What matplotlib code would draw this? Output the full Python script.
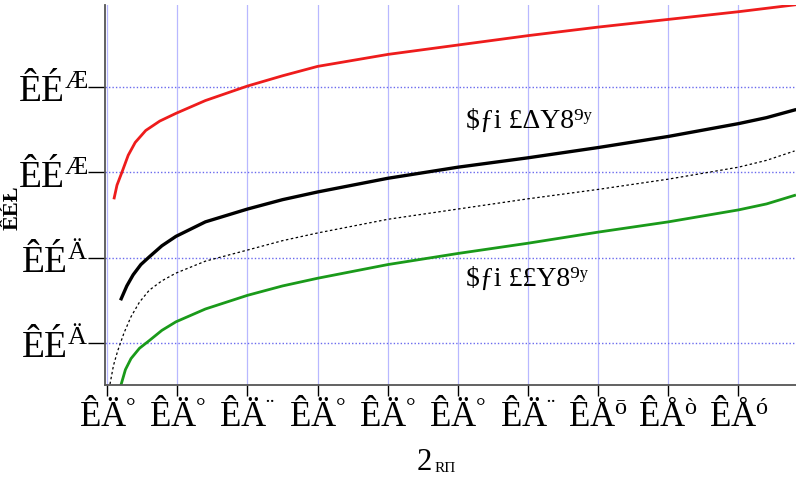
import matplotlib
matplotlib.use('Agg')
import matplotlib.pyplot as plt

# curve samples (x in tick units, y in grid-line units)
x_red = [0.10, 0.14, 0.21, 0.30, 0.40, 0.55, 0.75, 0.98, 1.4, 2.0, 2.5, 3.0, 4.0,
         5.0, 6.0, 7.0, 8.0, 9.0, 9.8]
y_red = [2.70, 2.85, 3.00, 3.20, 3.35, 3.49, 3.60, 3.69, 3.84, 4.01, 4.13, 4.24, 4.38,
         4.49, 4.60, 4.70, 4.79, 4.88, 4.96]

x_black = [0.20, 0.28, 0.37, 0.48, 0.60, 0.78, 0.98, 1.4, 2.0, 2.5, 3.0, 4.0, 5.0,
           6.0, 7.0, 8.0, 9.0, 9.4, 9.8]
y_black = [1.52, 1.67, 1.80, 1.92, 2.01, 2.14, 2.25, 2.42, 2.57, 2.68, 2.77, 2.93, 3.06,
           3.17, 3.29, 3.42, 3.57, 3.64, 3.73]

x_dot = [0.04, 0.09, 0.15, 0.24, 0.34, 0.46, 0.60, 0.78, 0.98, 1.4, 2.0, 2.5, 3.0,
         4.0, 5.0, 6.0, 7.0, 8.0, 9.0, 9.4, 9.8]
y_dot = [0.52, 0.74, 0.91, 1.12, 1.31, 1.48, 1.62, 1.73, 1.82, 1.96, 2.09, 2.20, 2.29,
         2.45, 2.57, 2.69, 2.80, 2.92, 3.06, 3.14, 3.25]

x_green = [0.20, 0.26, 0.34, 0.46, 0.60, 0.78, 0.98, 1.4, 2.0, 2.5, 3.0, 4.0, 5.0,
           6.0, 7.0, 8.0, 9.0, 9.4, 9.8]
y_green = [0.52, 0.69, 0.82, 0.94, 1.03, 1.15, 1.25, 1.40, 1.56, 1.67, 1.76, 1.92, 2.05,
           2.17, 2.30, 2.42, 2.56, 2.63, 2.73]

x_ticks = list(range(10))
x_labels = [r'$\mathregular{ÊÄ^{°}}$', r'$\mathregular{ÊÄ^{°}}$', r'$\mathregular{ÊÄ^{¨}}$',
            r'$\mathregular{ÊÄ^{°}}$', r'$\mathregular{ÊÄ^{°}}$', r'$\mathregular{ÊÄ^{°}}$',
            r'$\mathregular{ÊÄ^{¨}}$', r'$\mathregular{ÊÅ^{ō}}$', r'$\mathregular{ÊÅ^{ò}}$',
            r'$\mathregular{ÊÅ^{ó}}$']
y_ticks = [1, 2, 3, 4]
y_labels = [r'$\mathregular{ÊÉ^{Ä}}$', r'$\mathregular{ÊÉ^{Ä}}$',
            r'$\mathregular{ÊÉ^{Æ}}$', r'$\mathregular{ÊÉ^{Æ}}$']

upper_note = '\\$ƒi £ΔY8⁹ʸ'
lower_note = '\\$ƒi ££Y8⁹ʸ'
x_name = '2'
x_name_sub = 'RΠ'
y_name = 'ÊÉŁ'

plt.rcParams['font.family'] = ['Liberation Serif', 'DejaVu Serif']
plt.rcParams['mathtext.fontset'] = 'custom'
plt.rcParams['mathtext.rm'] = 'Liberation Serif'

fig = plt.figure(figsize=(7.96, 4.88), dpi=100)
ax = fig.add_axes([0.132, 0.211, 0.868, 0.779])

ax.plot(x_red, y_red, color='#ee1c1c', lw=2.0)
ax.plot(x_black, y_black, color='black', lw=2.4)
ax.plot(x_dot, y_dot, color='black', lw=0.9, ls=(0, (2, 2)))
ax.plot(x_green, y_green, color='#1a9a1a', lw=2.0)

ax.set_xlim(-0.03, 9.82)
ax.set_ylim(0.51, 4.96)
ax.set_xticks(x_ticks)
ax.set_xticklabels(x_labels, fontsize=25)
ax.set_yticks(y_ticks)
ax.set_yticklabels(y_labels, fontsize=27)
ax.tick_params(axis='x', length=8, width=1, pad=2)
ax.tick_params(axis='y', length=12, width=1, pad=0)

for x in x_ticks:
    ax.axvline(x, color='#b8b8ff', lw=0.9, zorder=0)
for y in y_ticks:
    ax.axhline(y, color='#6a6aee', lw=1.0, ls=(0, (1, 1.5)), zorder=0)

for side in ['top', 'right']:
    ax.spines[side].set_visible(False)
ax.spines['left'].set_color('#555555')
ax.spines['bottom'].set_color('#555555')
ax.spines['left'].set_linewidth(1.3)
ax.spines['bottom'].set_linewidth(1.3)

ax.text(5.12, 3.59, upper_note, fontsize=20, va='center', ha='left')
ax.text(5.12, 1.75, lower_note, fontsize=20, va='center', ha='left')

fig.text(0.523, 0.052, x_name, fontsize=22, ha='left', va='center')
fig.text(0.546, 0.040, x_name_sub, fontsize=11, ha='left', va='center')
fig.text(0.016, 0.575, y_name, fontsize=16, rotation=90, ha='center', va='center',
         fontweight='bold')

fig.savefig('out.png', dpi=100)
